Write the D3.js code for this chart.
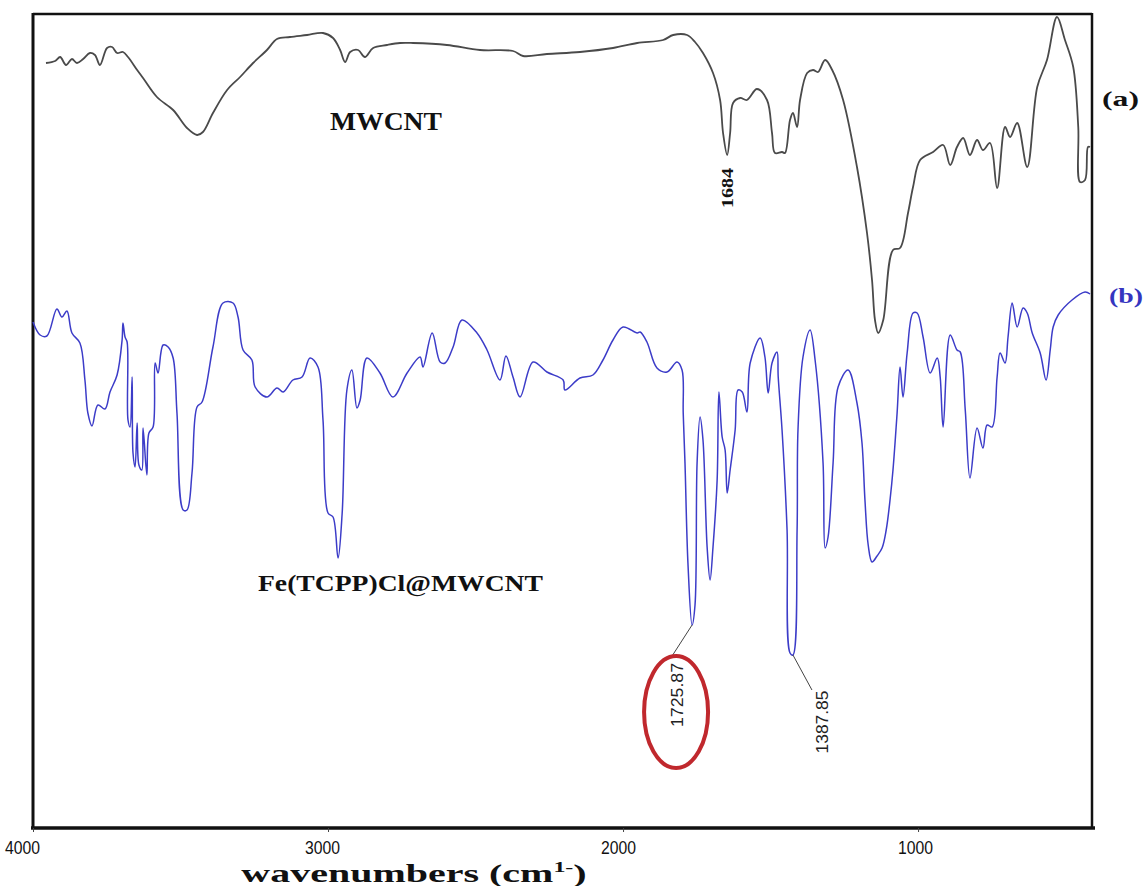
<!DOCTYPE html>
<html><head><meta charset="utf-8">
<script src="https://cdn.jsdelivr.net/npm/d3@7"></script>
<style>
html,body{margin:0;padding:0;background:#fff;}
svg{display:block;}
</style></head>
<body>
<svg id="chart" width="1144" height="886"></svg>
<script>
// ---- Data (wavenumber cm-1, relative transmittance) ----
const mwcntWn = [3956,3925,3908,3888,3868,3851,3830,3807,3790,3773,3749,3732,3715,3695,3678,3647,3627,3580,3525,3478,3444,3424,3390,3342,3298,3254,3207,3173,3129,3071,3017,2983,2959,2942,2925,2898,2875,2847,2800,2756,2712,2597,2485,2373,2339,2258,2146,2034,1952,1864,1830,1783,1756,1729,1695,1671,1661,1647,1637,1627,1603,1580,1546,1512,1495,1485,1461,1451,1434,1424,1410,1400,1376,1356,1339,1315,1291,1254,1207,1173,1156,1146,1135,1118,1085,1061,1034,1017,993,949,915,891,868,847,824,800,780,756,732,705,688,664,630,596,563,529,502,474,457,451,434,424,417];
const mwcntT = [76.5,76.7,77.1,76.3,76.9,76.5,76.9,77.5,77.3,76.3,78.0,78.1,77.5,77.6,77.1,75.8,75.0,73.1,71.8,70.0,69.3,69.6,71.5,73.8,75.1,76.5,77.8,78.9,79.1,79.3,79.5,79.0,77.8,76.6,77.6,77.8,77.1,78.0,78.3,78.5,78.5,78.3,77.8,77.7,77.2,77.4,77.6,78.0,78.5,78.8,79.3,79.3,78.6,77.5,75.5,72.8,69.5,67.3,69.5,72.5,73.0,72.8,73.9,72.8,69.5,67.5,67.6,67.5,70.8,71.5,70.1,72.8,75.5,75.8,75.6,76.8,75.8,72.8,66.1,59.5,54.8,50.8,49.5,50.8,57.8,58.0,61.5,64.1,66.8,67.6,68.3,66.3,68.1,69.0,67.3,68.8,67.8,68.5,64.0,70.1,69.1,70.5,66.1,74.1,76.8,81.1,78.8,76.1,70.1,64.6,64.8,68.1,68.1];

const fetcppWn = [4000,3976,3953,3919,3902,3885,3868,3841,3824,3814,3800,3780,3756,3739,3715,3698,3695,3688,3681,3678,3671,3664,3661,3654,3647,3641,3631,3627,3614,3607,3593,3586,3576,3559,3542,3525,3512,3491,3478,3461,3444,3427,3390,3356,3322,3305,3288,3258,3247,3207,3173,3152,3119,3088,3061,3034,3017,3000,2983,2966,2952,2936,2919,2902,2891,2868,2824,2780,2732,2688,2678,2647,2620,2603,2576,2546,2495,2461,2417,2397,2373,2349,2305,2258,2203,2197,2146,2102,2068,2034,2000,1952,1942,1919,1885,1851,1817,1800,1796,1790,1780,1766,1756,1749,1739,1729,1715,1705,1695,1681,1675,1664,1654,1647,1637,1620,1610,1596,1580,1569,1535,1519,1508,1495,1478,1474,1461,1444,1434,1424,1410,1407,1390,1366,1349,1322,1315,1305,1288,1271,1237,1207,1190,1180,1169,1156,1139,1122,1108,1095,1085,1071,1061,1051,1037,1017,1003,983,959,935,925,915,891,868,857,840,824,800,780,766,749,732,722,705,695,681,664,644,630,613,586,566,552,542,525,478,434,417];
const fetcppT = [50.6,49.3,49.2,51.9,51.1,51.7,49.5,48.5,44.8,41.5,40.2,42.3,41.9,43.6,45.3,48.8,50.5,49.1,48.6,40.8,40.1,45.1,37.5,36.1,40.5,36.3,35.8,40.0,35.3,39.5,40.1,46.5,45.5,48.3,48.1,47.0,41.5,31.8,31.8,35.5,42.1,42.6,48.1,52.5,52.5,51.1,47.8,46.8,44.1,43.1,44.0,43.6,44.8,45.1,47.0,46.1,40.8,31.5,31.1,27.0,31.5,43.8,45.8,42.0,42.8,47.0,45.5,43.1,45.5,47.1,46.1,49.5,46.6,46.5,48.1,50.8,49.5,47.8,44.8,47.2,45.1,43.1,46.6,45.6,44.8,43.8,45.0,45.3,46.8,48.8,50.1,49.5,49.6,48.6,46.0,45.6,46.6,45.8,41.5,36.5,26.5,20.3,22.3,36.5,41.1,38.8,28.1,24.8,28.1,34.8,43.6,39.1,37.8,33.5,35.8,39.8,43.8,43.6,41.6,46.5,49.0,47.1,43.5,46.5,47.6,45.1,39.8,29.8,17.5,17.3,29.8,39.8,47.1,49.8,46.8,36.5,28.0,29.1,36.5,44.1,45.8,42.5,38.5,32.8,28.3,26.6,27.2,28.0,29.8,32.8,35.8,41.5,46.1,43.1,47.5,51.5,51.5,49.1,45.5,47.0,45.1,40.1,49.3,47.8,47.6,41.8,35.0,40.0,38.0,40.3,40.1,45.1,47.5,46.5,49.1,52.5,50.1,52.0,51.5,49.5,47.5,44.8,47.8,50.1,51.3,52.8,53.6,53.4];

const xTicks = [4000,3000,2000,1000];
const xTickLabels = ["4000","3000","2000","1000"];
const peakLabels = [
  {text:"1725.87", wn:1766, t:20.3},
  {text:"1387.85", wn:1424, t:17.3}
];
const mwcntPeak = {text:"1684", wn:1647};

// ---- Layout ----
const L = 33, R = 1092, T = 14, B = 828;
const svg = d3.select("#chart");
const x = d3.scaleLinear().domain([4000, 407]).range([L, 1093]);
const y = d3.scaleLinear().domain([0, 80]).range([B, 28]);
const serif = "Liberation Serif, Times New Roman, serif";
const sans = "Liberation Sans, Arial, sans-serif";

// frame
svg.append("line").attr("x1",L).attr("x2",R).attr("y1",T).attr("y2",T).attr("stroke","#111").attr("stroke-width",2.5);
svg.append("line").attr("x1",L).attr("x2",L).attr("y1",T-1).attr("y2",B).attr("stroke","#111").attr("stroke-width",3);
svg.append("line").attr("x1",R).attr("x2",R).attr("y1",T-1).attr("y2",B).attr("stroke","#111").attr("stroke-width",2.5);

// bottom axis
const ax = svg.append("g").attr("transform",`translate(0,${B})`)
  .call(d3.axisBottom(x).tickValues(xTicks).tickSize(4).tickFormat((d,i)=>xTickLabels[i]));
ax.select(".domain").attr("stroke","#111").attr("stroke-width",3.5).attr("d",`M${L-2},0H${R+3}`);
ax.selectAll(".tick line").attr("stroke","#444").attr("stroke-width",1);
ax.selectAll(".tick text").attr("dy",null).attr("y",26).attr("x",(d,i)=>[-11,-6,-5,-3][i])
  .attr("font-family",sans).attr("font-size",18).attr("fill","#111")
  .attr("textLength",35).attr("lengthAdjust","spacingAndGlyphs");

// x label
const xl = svg.append("text").attr("transform","translate(414,882) scale(1.6,1)").attr("text-anchor","middle")
  .attr("font-family",serif).attr("font-weight","bold").attr("font-size",25).attr("fill","#111");
xl.append("tspan").text("wavenumbers (cm");
xl.append("tspan").text("1-").attr("font-size",15).attr("dy",-10);
xl.append("tspan").text(")").attr("dy",10);

// curves
const line = d3.line().x(d=>x(d[0])).y(d=>y(d[1])).curve(d3.curveCatmullRom.alpha(0.5));
const dA = mwcntWn.map((w,i)=>[w,mwcntT[i]]);
const dB = fetcppWn.map((w,i)=>[w,fetcppT[i]]);
svg.append("path").datum(dA).attr("d",line).attr("fill","none").attr("stroke","#4a4a4a").attr("stroke-width",1.8).attr("stroke-linejoin","round");
svg.append("path").datum(dB).attr("d",line).attr("fill","none").attr("stroke","#3c3cc8").attr("stroke-width",1.5).attr("stroke-linejoin","round");

// labels
svg.append("text").text("MWCNT").attr("x",330).attr("y",130).attr("font-family",serif).attr("font-weight","bold")
  .attr("font-size",25).attr("fill","#111").attr("textLength",112).attr("lengthAdjust","spacingAndGlyphs");
svg.append("text").text("Fe(TCPP)Cl@MWCNT").attr("x",258).attr("y",591).attr("font-family",serif).attr("font-weight","bold")
  .attr("font-size",24).attr("fill","#111").attr("textLength",285).attr("lengthAdjust","spacingAndGlyphs");
svg.append("text").text("(a)").attr("x",1102).attr("y",106).attr("font-family",serif).attr("font-weight","bold")
  .attr("font-size",22).attr("fill","#111").attr("textLength",37).attr("lengthAdjust","spacingAndGlyphs");
svg.append("text").text("(b)").attr("x",1109).attr("y",303).attr("font-family",serif).attr("font-weight","bold")
  .attr("font-size",22).attr("fill","#3535c0").attr("textLength",34).attr("lengthAdjust","spacingAndGlyphs");

// 1684 label
svg.append("text").text(mwcntPeak.text)
  .attr("transform",`translate(${x(mwcntPeak.wn)+6},188) rotate(-90)`).attr("text-anchor","middle")
  .attr("font-family",serif).attr("font-weight","bold").attr("font-size",17).attr("fill","#111")
  .attr("textLength",40).attr("lengthAdjust","spacingAndGlyphs");

// peak annotations
const a1 = peakLabels[0], a2 = peakLabels[1];
svg.append("line").attr("x1",x(a1.wn)).attr("y1",y(a1.t)).attr("x2",x(a1.wn)-20).attr("y2",y(a1.t)+31).attr("stroke","#444").attr("stroke-width",1);
svg.append("line").attr("x1",x(a2.wn)).attr("y1",y(a2.t)).attr("x2",x(a2.wn)+19).attr("y2",y(a2.t)+35).attr("stroke","#444").attr("stroke-width",1);
svg.append("text").text(a1.text).attr("transform",`translate(${x(a1.wn)-9},695) rotate(-90)`).attr("text-anchor","middle")
  .attr("font-family",sans).attr("font-size",16).attr("fill","#222")
  .attr("textLength",64).attr("lengthAdjust","spacingAndGlyphs");
svg.append("text").text(a2.text).attr("transform",`translate(${x(a2.wn)+35},722) rotate(-90)`).attr("text-anchor","middle")
  .attr("font-family",sans).attr("font-size",16).attr("fill","#222")
  .attr("textLength",63).attr("lengthAdjust","spacingAndGlyphs");
svg.append("ellipse").attr("cx",x(a1.wn)-16).attr("cy",712).attr("rx",32).attr("ry",56)
  .attr("fill","none").attr("stroke","#c0282d").attr("stroke-width",4);
</script>
</body></html>
